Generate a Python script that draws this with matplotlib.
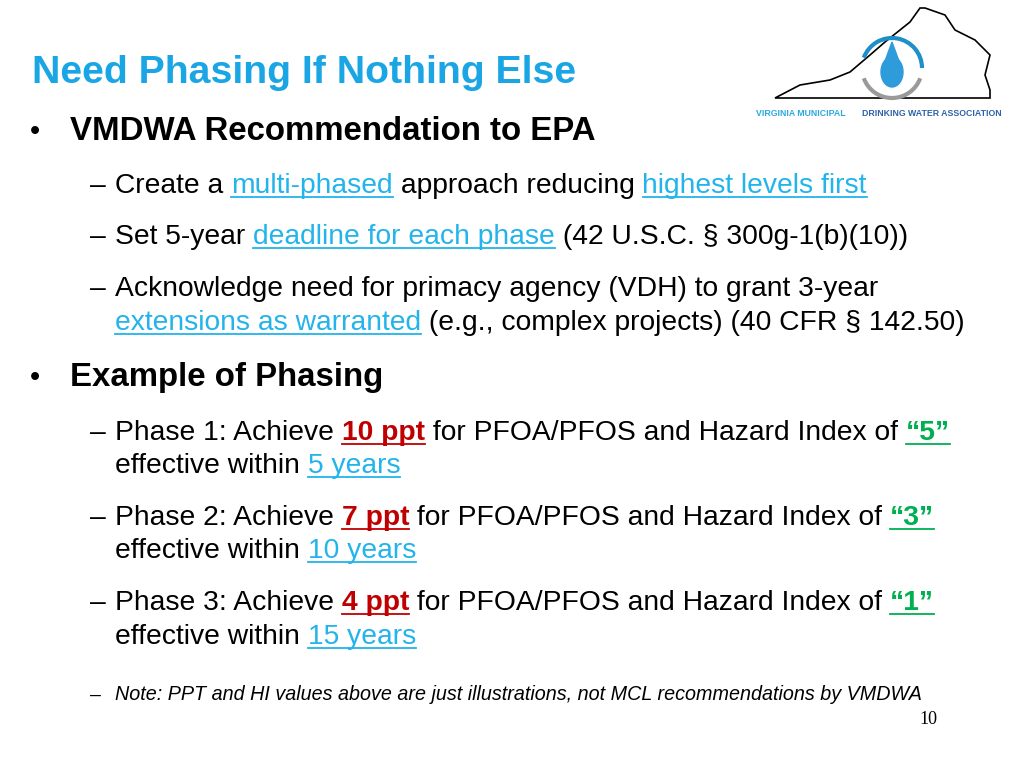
import matplotlib
matplotlib.use("Agg")
import matplotlib.pyplot as plt
from matplotlib.patches import Arc, Polygon, Ellipse

FONT = "Liberation Sans"
BLUE = "#1AA6E4"
LINK = "#22B4EA"
RED = "#C00000"
GREEN = "#00B050"

title = "Need Phasing If Nothing Else"
bullets = [
    ("VMDWA Recommendation to EPA", 140),
    ("Example of Phasing", 386),
]
# each sub item: baseline y, list of (text, style)
subitems = [
    (193, [("Create a ", "n"), ("multi-phased", "l"), (" approach reducing ", "n"), ("highest levels first", "l")]),
    (244, [("Set 5-year ", "n"), ("deadline for each phase", "l"), (" (42 U.S.C. § 300g-1(b)(10))", "n")]),
    (296, [("Acknowledge need for primacy agency (VDH) to grant 3-year", "n")]),
    (330, [("extensions as warranted", "l"), (" (e.g., complex projects) (40 CFR § 142.50)", "n")], False),
    (440, [("Phase 1: Achieve ", "n"), ("10 ppt", "r"), (" for PFOA/PFOS and Hazard Index of ", "n"), ("\u201c5\u201d", "g")]),
    (473, [("effective within ", "n"), ("5 years", "l")], False),
    (525, [("Phase 2: Achieve ", "n"), ("7 ppt", "r"), (" for PFOA/PFOS and Hazard Index of ", "n"), ("\u201c3\u201d", "g")]),
    (558, [("effective within ", "n"), ("10 years", "l")], False),
    (610, [("Phase 3: Achieve ", "n"), ("4 ppt", "r"), (" for PFOA/PFOS and Hazard Index of ", "n"), ("\u201c1\u201d", "g")]),
    (644, [("effective within ", "n"), ("15 years", "l")], False),
]
note = "Note: PPT and HI values above are just illustrations, not MCL recommendations by VMDWA"
page = "10"

fig = plt.figure(figsize=(10.24, 7.68), dpi=100)
ax = fig.add_axes([0, 0, 1, 1])
ax.set_xlim(0, 1024)
ax.set_ylim(768, 0)
ax.axis("off")
r = fig.canvas.get_renderer()

styles = {
    "n": dict(color="black", weight="normal"),
    "l": dict(color=LINK, weight="normal"),
    "r": dict(color=RED, weight="bold"),
    "g": dict(color=GREEN, weight="bold"),
}


def width(s, **kw):
    t = ax.text(0, 0, s + "|", fontfamily=FONT, **kw)
    b = ax.text(0, 0, "|", fontfamily=FONT, **kw)
    w = t.get_window_extent(r).width - b.get_window_extent(r).width
    t.remove(); b.remove()
    return w


def rich(x, y, parts, size=20.3):
    for s, st in parts:
        kw = styles[st]
        ax.text(x, y, s, fontfamily=FONT, fontsize=size, va="baseline", **kw)
        w = width(s, fontsize=size, **kw)
        if st != "n":
            ax.plot([x, x + w], [y + 4, y + 4], color=kw["color"], lw=1.3)
        x += w


ax.text(32, 83, title, fontfamily=FONT, fontsize=28.3, weight="bold", color=BLUE, va="baseline")
for txt, y in bullets:
    ax.text(30, y, "\u2022", fontfamily=FONT, fontsize=21, va="baseline")
    ax.text(70, y, txt, fontfamily=FONT, fontsize=23.8, weight="bold", va="baseline")
for item in subitems:
    y, parts = item[0], item[1]
    if len(item) == 2:
        ax.text(90, y, "\u2013", fontfamily=FONT, fontsize=20.3, va="baseline")
    rich(115, y, parts)
ax.text(90, 700, "\u2013", fontfamily=FONT, fontsize=14, va="baseline")
ax.text(115, 700, note, fontfamily=FONT, fontsize=14.2, style="italic", va="baseline")
ax.text(937, 724, page, fontfamily="Liberation Serif", fontsize=13, ha="right", va="baseline")

# logo: rough Virginia outline, ring and drop
va_x = [775, 800, 830, 850, 870, 885, 900, 910, 920, 925, 945, 955, 975, 985, 990, 985, 990, 990]
va_y = [98, 85, 80, 72, 55, 42, 30, 22, 8, 8, 15, 30, 40, 50, 55, 75, 90, 98]
ax.add_patch(Polygon(list(zip(va_x, va_y)), closed=True, fill=False, ec="black", lw=1.2))
ax.add_patch(Arc((892, 68), 60, 60, theta1=200, theta2=360, color="#1E8FC9", lw=3))
ax.add_patch(Arc((892, 68), 60, 60, theta1=20, theta2=160, color="#9A9A9A", lw=3))
ax.add_patch(Ellipse((892, 72), 22, 30, color="#2E9BDA"))
ax.add_patch(Polygon([(884, 64), (900, 64), (892, 42)], closed=True, color="#2E9BDA"))
ax.text(756, 113, "VIRGINIA MUNICIPAL", fontfamily=FONT, fontsize=6.3, weight="bold", color="#2AA8DF", va="center")
ax.text(862, 113, "DRINKING WATER ASSOCIATION", fontfamily=FONT, fontsize=6.3, weight="bold", color="#2E62A8", va="center")

fig.savefig("out.png", dpi=100)
